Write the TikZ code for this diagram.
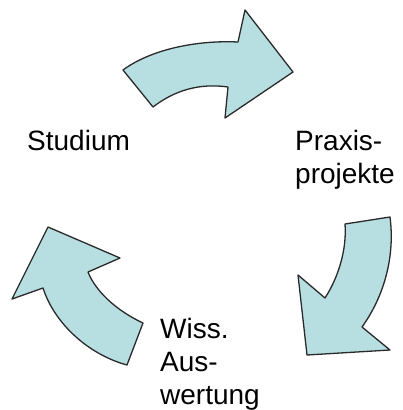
\documentclass[tikz,border=0pt]{standalone}
\usepackage{fontspec}
\setmainfont{Liberation Sans}
\definecolor{arrowfill}{HTML}{B7DEE1}
\definecolor{arrowline}{HTML}{2A2A2A}
\tikzset{
  cyclearrow/.style={fill=arrowfill, draw=arrowline, line width=1.3pt, line join=round},
  label/.style={inner sep=0pt, anchor=base west, align=left, font=\fontsize{28}{33}\selectfont, text=black}
}
\begin{document}
\begin{tikzpicture}[x=1pt,y=-1pt]
\useasboundingbox (0,0) rectangle (403,410);
% top arrow
\draw[cyclearrow] (123,70) .. controls (150,50) and (195,40) .. (238,42)
  -- (245,10) -- (293,72) -- (225,118) -- (228,87)
  .. controls (200,83) and (175,90) .. (153,107) -- cycle;
% right arrow
\draw[cyclearrow] (345,224) -- (390,217)
  .. controls (395,255) and (385,295) .. (362,327)
  -- (390,350) -- (307,355) -- (298,275) -- (325,298)
  .. controls (338,278) and (347,250) .. (345,224) -- cycle;
% left arrow
\draw[cyclearrow] (127,365) -- (143,323)
  .. controls (115,310) and (95,290) .. (88,272)
  -- (120,258) -- (48,227) -- (12,299) -- (43,288)
  .. controls (55,325) and (90,355) .. (127,365) -- cycle;
\node[label] (studium) at (27,150) {Studium};
\node[label] (praxis) at (295,183) {Praxis-\\projekte};
\node[label] (wiss) at (160,404) {Wiss.\\Aus-\\wertung};
\end{tikzpicture}
\end{document}
